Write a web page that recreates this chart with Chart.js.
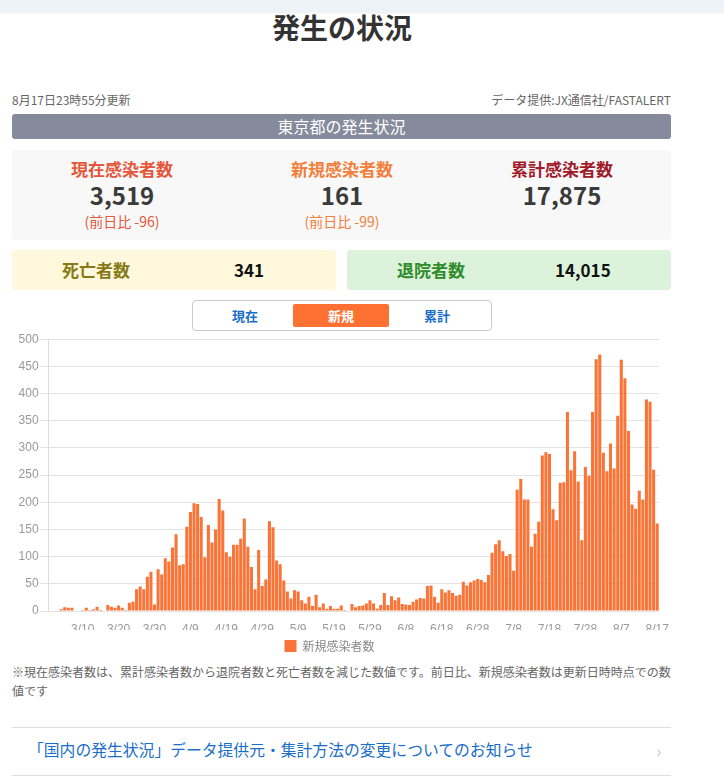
<!DOCTYPE html>
<html lang="ja">
<head>
<meta charset="utf-8">
<script src="https://cdn.jsdelivr.net/npm/chart.js@4"></script>
<style>
  body { margin: 0; background: #fff; font-family: "Noto Sans CJK JP", "Noto Sans", sans-serif; color: #333; }
  .abs { position: absolute; }
  #topband { left: 0; top: 0; width: 724px; height: 12px; background: #eef3f9; box-shadow: 0 1px 2px rgba(0,0,0,0.08); }
  #title { left: 0; width: 684px; top: 8px; text-align: center; font-size: 28px; font-weight: bold; color: #333; line-height: 38px; }
  #updated { left: 12px; top: 91px; font-size: 12px; color: #666; }
  #source { right: 53px; top: 91px; font-size: 12px; color: #666; }
  #areabar { left: 12px; top: 114px; width: 659px; height: 25px; background: #858a9c; border-radius: 3px; color: #fff; font-size: 16px; text-align: center; line-height: 25px; }
  #stats { left: 12px; top: 150px; width: 659px; height: 90px; background: #f8f8f8; border-radius: 4px; }
  .col { position: absolute; top: 0; width: 220px; text-align: center; }
  .lbl { margin-top: 8px; font-size: 17px; font-weight: bold; line-height: 22px; }
  .num { font-size: 24px; font-weight: bold; line-height: 30px; color: #3a3a3a; }
  .sub { font-size: 14px; line-height: 22px; }
  .box { top: 250px; width: 324px; height: 40px; border-radius: 4px; }
  .box span { position: absolute; top: 0; line-height: 40px; font-size: 17px; font-weight: bold; }
  #tabs { left: 192px; top: 300px; width: 298px; height: 29px; border: 1px solid #ccc; border-radius: 4px; }
  .tab { position: absolute; top: 3px; width: 96px; height: 23px; line-height: 23px; text-align: center; font-size: 13px; font-weight: bold; color: #1a6ec8; border-radius: 2px; }
  #chartbox { left: 0; top: 331px; width: 672px; height: 331px; }
  #note { left: 12px; top: 662px; width: 664px; font-size: 12px; line-height: 19px; color: #666; }
  .rule { left: 12px; width: 659px; height: 1px; background: #ddd; }
  #link { left: 28px; top: 737px; font-size: 15.8px; color: #1a6ec8; line-height: 26px; }
  #chev { left: 656px; top: 737px; font-size: 18px; color: #ccc; line-height: 26px; }
</style>
</head>
<body>
<div class="abs" id="topband"></div>
<div class="abs" id="title">発生の状況</div>
<div class="abs" id="updated">8月17日23時55分更新</div>
<div class="abs" id="source">データ提供:JX通信社/FASTALERT</div>
<div class="abs" id="areabar">東京都の発生状況</div>

<div class="abs" id="stats">
  <div class="col" style="left:0px">
    <div class="lbl" style="color:#e4573a">現在感染者数</div>
    <div class="num">3,519</div>
    <div class="sub" style="color:#e4573a">(前日比 -96)</div>
  </div>
  <div class="col" style="left:220px">
    <div class="lbl" style="color:#f2803c">新規感染者数</div>
    <div class="num">161</div>
    <div class="sub" style="color:#f2803c">(前日比 -99)</div>
  </div>
  <div class="col" style="left:440px">
    <div class="lbl" style="color:#a11a2a">累計感染者数</div>
    <div class="num">17,875</div>
  </div>
</div>

<div class="abs box" style="left:12px;background:#fff8dc">
  <span style="left:50px;color:#877a16">死亡者数</span>
  <span style="left:222px;color:#111">341</span>
</div>
<div class="abs box" style="left:347px;background:#dcf2da">
  <span style="left:50px;color:#2f8c2a">退院者数</span>
  <span style="left:208px;color:#111">14,015</span>
</div>

<div class="abs" id="tabs">
  <div class="tab" style="left:4px">現在</div>
  <div class="tab" style="left:100px;background:#ff7133;color:#fff">新規</div>
  <div class="tab" style="left:196px">累計</div>
</div>

<div class="abs" id="chartbox"><canvas id="js-new-cases"></canvas></div>

<div class="abs" id="note">※現在感染者数は、累計感染者数から退院者数と死亡者数を減じた数値です。前日比、新規感染者数は更新日時時点での数値です</div>
<div class="abs rule" style="top:727px"></div>
<div class="abs" id="link">「国内の発生状況」データ提供元・集計方法の変更についてのお知らせ</div>
<div class="abs" id="chev">›</div>
<div class="abs rule" style="top:775px"></div>

<script>
  // 2020/3/1 - 8/17 daily new cases (Tokyo)
  var startMonth = 3, startDay = 1;
  var daysInMonth = {3: 31, 4: 30, 5: 31, 6: 30, 7: 31, 8: 31};

  var newCases = [
    1, 0, 0, 3, 7, 6, 6, 0, 0, 2,
    6, 2, 3, 8, 2, 0, 11, 8, 6, 10,
    6, 2, 15, 17, 40, 45, 40, 63, 72, 12,
    77, 67, 97, 91, 117, 141, 84, 86, 155, 182,
    198, 197, 173, 99, 158, 126, 150, 206, 185, 108,
    100, 122, 122, 133, 170, 118, 81, 40, 112, 46,
    58, 165, 154, 93, 86, 56, 36, 23, 38, 36,
    20, 14, 26, 9, 30, 7, 14, 4, 9, 4,
    4, 10, 2, 1, 13, 7, 9, 10, 14, 20,
    14, 4, 11, 33, 11, 27, 20, 25, 13, 12,
    11, 17, 21, 24, 23, 46, 47, 26, 15, 40,
    34, 38, 33, 28, 30, 54, 47, 53, 56, 59,
    57, 53, 66, 107, 123, 130, 110, 101, 105, 74,
    223, 243, 205, 205, 118, 142, 164, 286, 292, 289,
    187, 167, 236, 237, 366, 259, 294, 238, 130, 265,
    249, 366, 463, 472, 291, 257, 308, 262, 359, 462,
    428, 331, 196, 188, 221, 205, 389, 385, 260, 161
  ];

  var tickLabels = ['3/10', '3/20', '3/30', '4/9', '4/19', '4/29', '5/9', '5/19', '5/29',
    '6/8', '6/18', '6/28', '7/8', '7/18', '7/28', '8/7', '8/17'];
  var yTicks = [0, 50, 100, 150, 200, 250, 300, 350, 400, 450, 500];

  var labels = [];
  var m = startMonth, d = startDay;
  for (let i = 0; i < newCases.length; i++) {
    labels.push(m + '/' + d);
    d++;
    if (d > daysInMonth[m]) { m++; d = 1; }
  }

  var ctx = document.getElementById('js-new-cases').getContext('2d');
  var chart = new Chart(ctx, {
    type: 'bar',
    data: {
      labels: labels,
      datasets: [{
        label: '新規感染者数',
        data: newCases,
        backgroundColor: '#f97436',
        barPercentage: 0.85,
        categoryPercentage: 1.0
      }]
    },
    options: {
      responsive: true,
      maintainAspectRatio: false,
      animation: false,
      layout: { padding: { top: 8, right: 13, left: 0, bottom: 0 } },
      plugins: {
        tooltip: { enabled: false },
        legend: {
          position: 'bottom',
          labels: {
            boxWidth: 12,
            boxHeight: 12,
            color: '#888',
            font: { size: 12, family: '"Noto Sans CJK JP", sans-serif' }
          }
        }
      },
      scales: {
        x: {
          grid: { display: false },
          border: { display: false },
          ticks: {
            autoSkip: false,
            maxRotation: 0,
            color: '#999',
            font: { size: 12, family: '"Liberation Sans", Arial, sans-serif' },
            padding: 3,
            callback: function(value, index) {
              var l = labels[index];
              return tickLabels.indexOf(l) >= 0 ? l : '';
            }
          },
          afterFit: function(scale) { scale.height = 19; }
        },
        y: {
          min: 0,
          max: 500,
          afterBuildTicks: function(scale) {
            scale.ticks = yTicks.map(function(v) { return { value: v }; });
          },
          grid: { color: '#e3e3e3', tickLength: 9 },
          border: { color: '#ddd' },
          ticks: {
            color: '#999',
            padding: 1,
            font: { size: 12, family: '"Liberation Sans", Arial, sans-serif' }
          },
          afterFit: function(scale) { scale.width = 48.6; }
        }
      }
    }
  });
</script>
</body>
</html>
